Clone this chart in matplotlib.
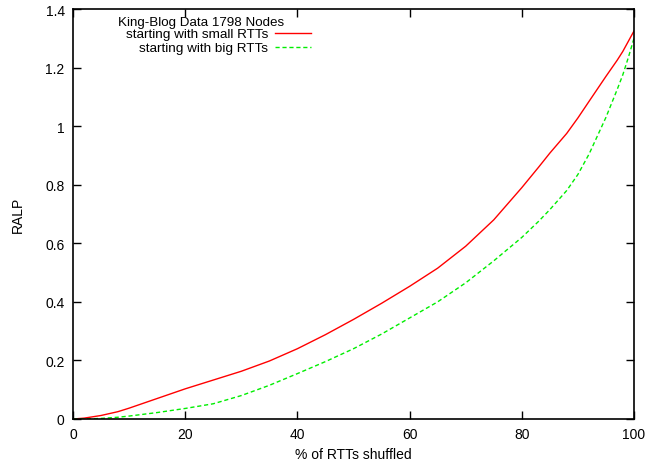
import numpy as np
import matplotlib
matplotlib.use('Agg')
import matplotlib.pyplot as plt

plt.rcParams['font.family'] = ['Liberation Sans', 'DejaVu Sans']

# % of RTTs shuffled
x_pct = [0, 2, 5, 8, 10, 15, 20, 25, 30, 35, 40, 45, 50, 55, 60, 65, 70, 75,
         80, 83, 85, 88, 90, 92, 95, 97, 98, 99, 100]
# RALP, starting with small RTTs
ralp_small = [0.0, 0.003, 0.012, 0.025, 0.037, 0.07, 0.103, 0.133, 0.163, 0.198,
              0.24, 0.288, 0.34, 0.395, 0.453, 0.515, 0.59, 0.68,
              0.79, 0.86, 0.908, 0.975, 1.028, 1.085, 1.17, 1.225, 1.255, 1.29, 1.325]
# RALP, starting with big RTTs
ralp_big = [0.0, 0.0, 0.002, 0.006, 0.01, 0.022, 0.036, 0.052, 0.08, 0.115,
            0.155, 0.196, 0.24, 0.29, 0.345, 0.40, 0.465, 0.54,
            0.62, 0.675, 0.715, 0.78, 0.835, 0.905, 1.03, 1.125, 1.175, 1.235, 1.30]

W, H = 647, 464
fig = plt.figure(figsize=(W / 100, H / 100), dpi=100)
ax = fig.add_axes([73/W, 44/H, 561/W, 410/H])

ax.plot(x_pct, ralp_small, color='#ff0000', lw=1.0, label='starting with small RTTs')
ax.plot(x_pct, ralp_big, color='#00ee00', lw=1.0, ls=(0, (3, 2)), label='starting with big RTTs')

ax.set_xlim(0, 100)
ax.set_ylim(0, 1.4)
ax.set_xticks([0, 20, 40, 60, 80, 100])
ax.set_yticks([0, 0.2, 0.4, 0.6, 0.8, 1, 1.2, 1.4])
ax.set_yticklabels(['0', '0.2', '0.4', '0.6', '0.8', '1', '1.2', '1.4'])
ax.tick_params(direction='in', top=True, right=True, length=6, width=1, labelsize=10, pad=6)
for s in ax.spines.values():
    s.set_linewidth(1.2)

ax.set_xlabel('% of RTTs shuffled', fontsize=10, labelpad=4)
ax.set_ylabel('RALP', fontsize=10)
ax.yaxis.set_label_coords((25 - 73) / 561, 0.5)

# key title, left of the key entries like gnuplot
fig.text(118/W, 1 - 23/H, 'King-Blog Data 1798 Nodes', fontsize=9.6, ha='left', va='center')
leg = ax.legend(loc='upper right', bbox_to_anchor=(311/W, 1 - 29/H), bbox_transform=fig.transFigure,
                frameon=False, markerfirst=False, fontsize=9.7,
                handlelength=2.7, handletextpad=0.5, labelspacing=0.12, borderpad=0, borderaxespad=0)
for t in leg.get_texts():
    t.set_ha('right')
leg._legend_box.align = 'right'

fig.savefig('out.png', dpi=100)
